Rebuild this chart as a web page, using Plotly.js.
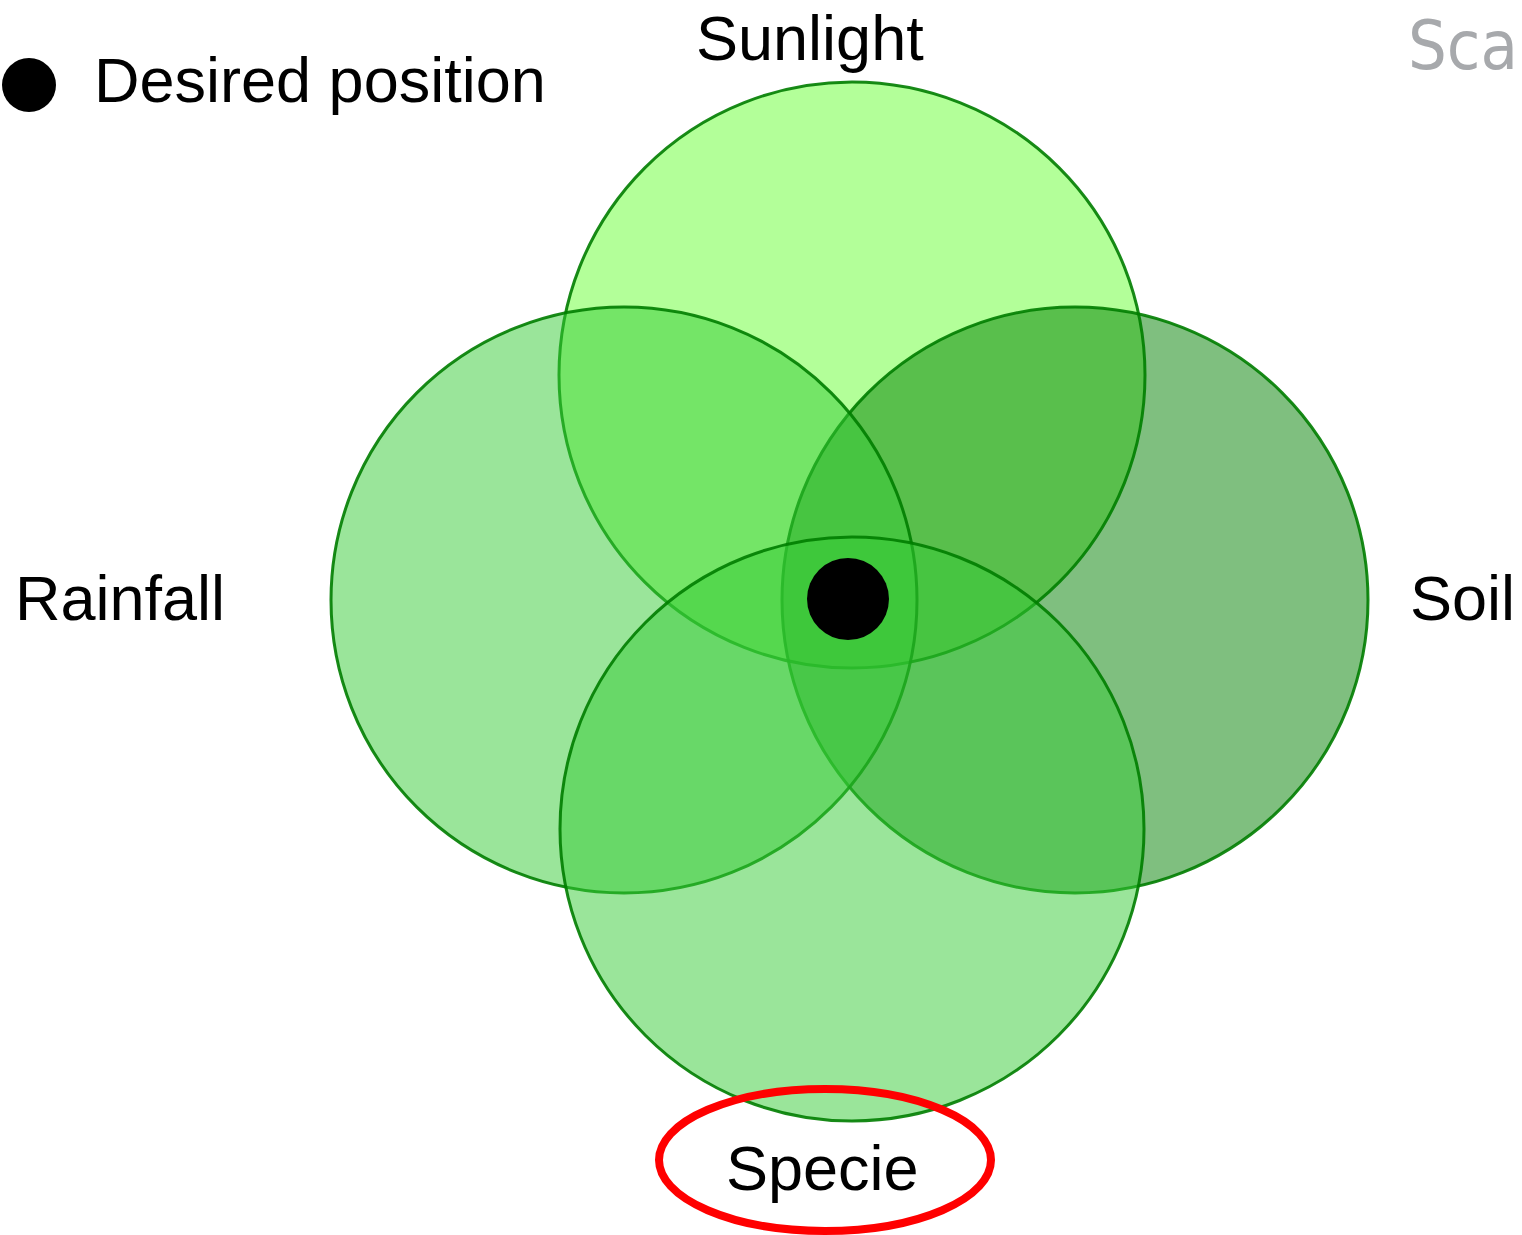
<!DOCTYPE html>
<html>
<head>
<meta charset="utf-8">
<script src="https://cdn.plot.ly/plotly-3.0.1.min.js"></script>
<style>html,body{margin:0;padding:0;background:#fff;}#chart{width:1522px;height:1235px;}</style>
</head>
<body>
<div id="chart"></div>
<script>
// Sets (drawing order), their centres and radii in diagram units
const setNames = ['Sunlight', 'Soil', 'Rainfall', 'Specie'];
const setCx = [852, 1075, 624, 852];
const setCy = [375, 600, 600, 829];
const setR = [293, 293, 293, 292];
const setFill = ['rgba(103,255,51,0.5)', 'rgba(0,128,0,0.5)', 'rgba(53,203,53,0.5)', 'rgba(53,203,53,0.5)'];

// Set labels
const labelText = ['Sunlight', 'Soil', 'Rainfall', 'Specie'];
const labelX = [810, 1462, 120, 822];
const labelY = [38, 598, 598, 1168];

// Highlight ellipse round the Specie label
const highlightCx = [825];
const highlightCy = [1160];
const highlightRx = [166];
const highlightRy = [71];

// Desired position marker
const desiredX = [848];
const desiredY = [599];
const legendName = 'Desired position';

const FONT = 'Liberation Sans, Arial, Helvetica, sans-serif';

const shapes = setNames.map((n, i) => ({
  type: 'circle', xref: 'x', yref: 'y', layer: 'below',
  x0: setCx[i] - setR[i], x1: setCx[i] + setR[i],
  y0: setCy[i] - setR[i], y1: setCy[i] + setR[i],
  fillcolor: setFill[i],
  line: {color: 'rgba(0,125,0,0.9)', width: 3}
}));
shapes.push({
  type: 'circle', xref: 'x', yref: 'y', layer: 'above',
  x0: highlightCx[0] - highlightRx[0], x1: highlightCx[0] + highlightRx[0],
  y0: highlightCy[0] - highlightRy[0], y1: highlightCy[0] + highlightRy[0],
  fillcolor: 'rgba(0,0,0,0)',
  line: {color: '#ff0000', width: 8}
});

const annotations = labelText.map((t, i) => ({
  x: labelX[i], y: labelY[i], xref: 'x', yref: 'y', text: t, showarrow: false,
  xanchor: 'center', yanchor: 'middle', font: {family: FONT, size: 63, color: '#000'}
}));
annotations.push({
  x: 92, y: 80, xref: 'x', yref: 'y', text: legendName, showarrow: false,
  xanchor: 'left', yanchor: 'middle', font: {family: FONT, size: 63, color: '#000'}
});
annotations.push({
  x: 1520, y: 4, xref: 'x', yref: 'y', text: 'Sca', showarrow: false,
  xanchor: 'right', yanchor: 'top',
  font: {family: 'DejaVu Sans Condensed, Liberation Sans Narrow, sans-serif', size: 68, color: '#a7a9ac'}
});

const traces = [
  {type: 'scatter', mode: 'markers', x: desiredX, y: desiredY, name: legendName,
   marker: {color: '#000', size: 82}, hoverinfo: 'skip', showlegend: false},
  {type: 'scatter', mode: 'markers', x: [29], y: [85], name: legendName,
   marker: {color: '#000', size: 54}, hoverinfo: 'skip', showlegend: false}
];

const layout = {
  width: 1522, height: 1235,
  margin: {l: 0, r: 0, t: 0, b: 0},
  paper_bgcolor: '#fff', plot_bgcolor: '#fff',
  xaxis: {range: [0, 1522], visible: false, fixedrange: true},
  yaxis: {range: [1235, 0], visible: false, fixedrange: true},
  shapes: shapes, annotations: annotations, showlegend: false
};

Plotly.newPlot('chart', traces, layout, {displayModeBar: false, staticPlot: true});
</script>
</body>
</html>
